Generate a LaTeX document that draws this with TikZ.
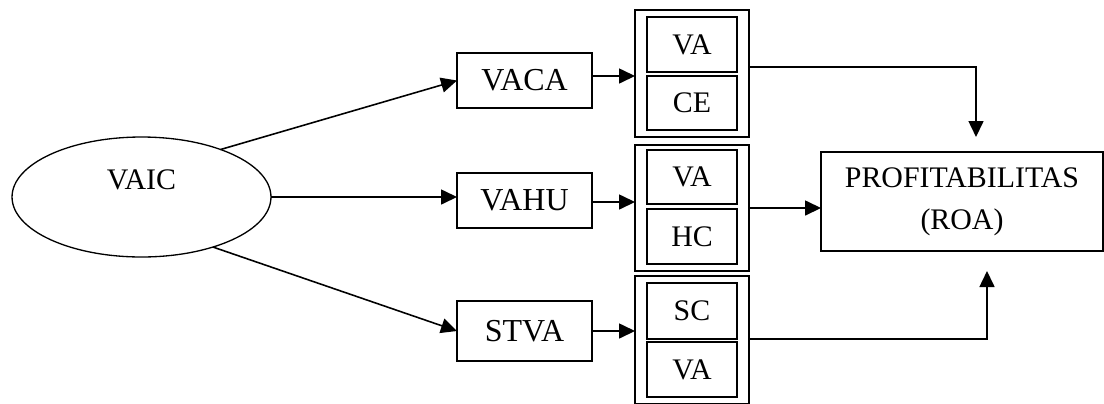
\documentclass[tikz,border=0pt]{standalone}
\usepackage{fontspec}
\setmainfont{Liberation Serif}
\usetikzlibrary{shapes.geometric,arrows.meta}
\begin{document}
\begin{tikzpicture}[x=0.02cm,y=-0.02cm,
  every node/.style={inner sep=0pt, outer sep=0pt},
  txt/.style={font=\fontsize{17}{24}\selectfont},
  mainbox/.style={draw, line width=0.85pt, minimum width=2.7cm, minimum height=1.1cm, font=\fontsize{18.2}{24}\selectfont},
  outerbox/.style={draw, line width=0.85pt, minimum width=2.28cm},
  innerbox/.style={draw, line width=0.85pt, minimum width=1.8cm, txt},
  arr/.style={line width=0.9pt, -{Triangle[length=0.32cm,width=0.3cm]}},
  conn/.style={line width=0.85pt}]
\useasboundingbox (0,0) rectangle (1104,403);
% ellipse
\node[draw, ellipse, line width=0.75pt, minimum width=5.18cm, minimum height=2.4cm, txt,
  text height=11pt, text depth=19.5pt] (vaic) at (141.5,197) {VAIC};
% middle boxes
\node[mainbox] (vaca) at (524.5,80.5) {VACA};
\node[mainbox] (vahu) at (524.5,200.5) {VAHU};
\node[mainbox, minimum height=1.2cm] (stva) at (524.5,331) {STVA};
% stack 1
\node[outerbox, minimum height=2.54cm] (s1) at (692,73.5) {};
\node[innerbox, minimum height=1.1cm] (s1a) at (692,44.5) {VA};
\node[innerbox, minimum height=1.08cm] (s1b) at (692,103) {CE};
% stack 2
\node[outerbox, minimum height=2.52cm] (s2) at (692,208) {};
\node[innerbox, minimum height=1.08cm] (s2a) at (692,177) {VA};
\node[innerbox, minimum height=1.1cm] (s2b) at (692,236.5) {HC};
% stack 3
\node[outerbox, minimum height=2.56cm] (s3) at (692,340) {};
\node[innerbox, minimum height=1.12cm] (s3a) at (692,311) {SC};
\node[innerbox, minimum height=1.1cm] (s3b) at (692,369.5) {VA};
% profitabilitas
\node[draw, line width=0.85pt, minimum width=5.64cm, minimum height=1.98cm, txt, align=center]
  (roa) at (962,201.5) {PROFITABILITAS\\(ROA)};
% connectors from ellipse
\draw[arr] (vaic.31) -- (vaca.west);
\draw[arr] (vaic.east) -- (vaic.east -| vahu.west);
\draw[arr] (vaic.-35) -- (stva.west);
% middle to stacks
\coordinate (a1) at ([yshift=0.09cm]vaca.east);
\draw[arr] (a1) -- (a1 -| s1.west);
\coordinate (a2) at ([yshift=-0.03cm]vahu.east);
\draw[arr] (a2) -- (a2 -| s2.west);
\draw[arr] (stva.east) -- (stva.east -| s3.west);
% stacks to roa
\coordinate (o1) at ([yshift=0.13cm]s1.east);
\coordinate (t1) at (976,137);
\draw[arr] (o1) -| (t1);
\draw[arr] (s2.east) -- (s2.east -| roa.west);
\coordinate (o3) at ([yshift=0.02cm]s3.east);
\coordinate (t3) at (987,271);
\draw[arr] (o3) -| (t3);
\end{tikzpicture}
\end{document}
